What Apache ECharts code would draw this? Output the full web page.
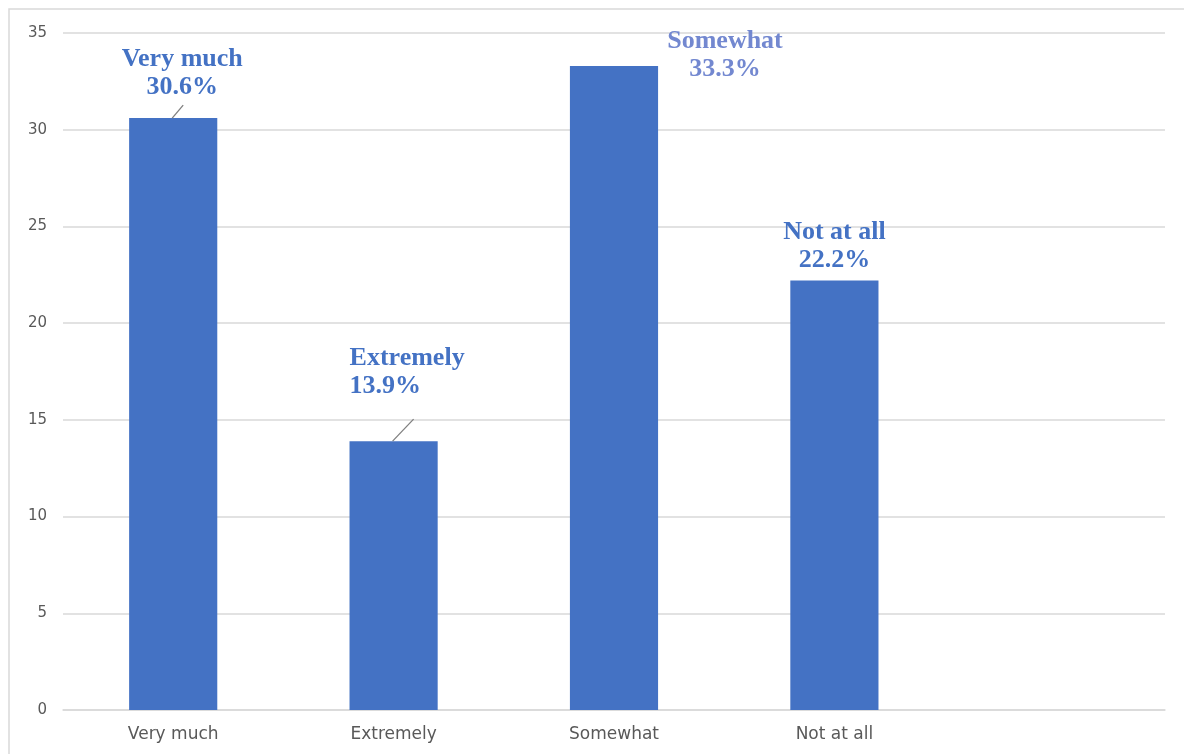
<!DOCTYPE html>
<html>
<head>
<meta charset="utf-8">
<script src="https://cdn.jsdelivr.net/npm/echarts@6/dist/echarts.min.js"></script>
<style>
  html, body { margin: 0; padding: 0; background: #ffffff; }
  #chart { width: 1184px; height: 754px; }
</style>
</head>
<body>
<div id="chart"></div>
<script>
// Survey responses (percent of respondents)
const categories = ['Very much', 'Extremely', 'Somewhat', 'Not at all', ''];
const values = [30.6, 13.9, 33.3, 22.2, null];
const yTicks = { min: 0, max: 35, interval: 5 };

// Label placement per bar (pixel nudges from the default "top" spot)
const labelNudges = [[9, -12], [-44, -36], [111, 22], [0, -1]];
const labelAligns = ['center', 'left', 'center', 'center'];
const labelColors = ['#4472C4', '#4472C4', '#7388D0', '#4472C4'];
// Leader lines: pixel offset of the far end from the bar's top centre (null = none)
const leaderEnds = [[11, -13], [21, -22], null, null];

const chart = echarts.init(document.getElementById('chart'), null, { renderer: 'canvas' });

const seriesData = values.map((v, i) => {
  if (v == null) return { value: null };
  return {
    value: v,
    label: { align: labelAligns[i], color: labelColors[i] }
  };
});

const frame = {
  type: 'rect',
  shape: { x: 9, y: 9, width: 1300, height: 900 },
  style: { fill: 'none', stroke: '#d9d9d9', lineWidth: 1.5 },
  silent: true,
  z: -1
};

chart.setOption({
  animation: false,
  backgroundColor: '#ffffff',
  graphic: [frame],
  grid: { left: 63, right: 19, top: 33, bottom: 44 },
  xAxis: {
    type: 'category',
    data: categories,
    axisTick: { show: false },
    axisLine: { show: true, lineStyle: { color: '#d9d9d9', width: 1.5 } },
    axisLabel: {
      color: '#595959',
      fontFamily: 'DejaVu Sans',
      fontSize: 17,
      margin: 16
    }
  },
  yAxis: {
    type: 'value',
    min: yTicks.min,
    max: yTicks.max,
    interval: yTicks.interval,
    axisLine: { show: false },
    axisTick: { show: false },
    splitLine: { lineStyle: { color: '#d9d9d9', width: 1.5 } },
    axisLabel: {
      color: '#595959',
      fontFamily: 'DejaVu Sans',
      fontSize: 15,
      margin: 16
    }
  },
  series: [{
    type: 'bar',
    data: seriesData,
    barCategoryGap: '60%',
    itemStyle: { color: '#4472C4' },
    label: {
      show: true,
      position: 'top',
      distance: 5,
      fontFamily: 'Liberation Serif',
      fontWeight: 'bold',
      fontSize: 26,
      lineHeight: 28,
      formatter: p => p.name + '\n' + p.value.toFixed(1) + '%'
    },
    labelLayout: p => {
      const n = labelNudges[p.dataIndex] || [0, 0];
      return { dx: n[0], dy: n[1] };
    }
  }]
});

// Leader lines from each bar top towards its label
const leaders = [];
values.forEach((v, i) => {
  if (v == null || !leaderEnds[i]) return;
  const top = chart.convertToPixel({ seriesIndex: 0 }, [i, v]);
  const d = leaderEnds[i];
  leaders.push({
    type: 'line',
    shape: { x1: top[0] - 1, y1: top[1], x2: top[0] - 1 + d[0], y2: top[1] + d[1] },
    style: { stroke: '#7f7f7f', lineWidth: 1.3 },
    silent: true,
    z: 10
  });
});
chart.setOption({ graphic: [frame].concat(leaders) });
</script>
</body>
</html>
